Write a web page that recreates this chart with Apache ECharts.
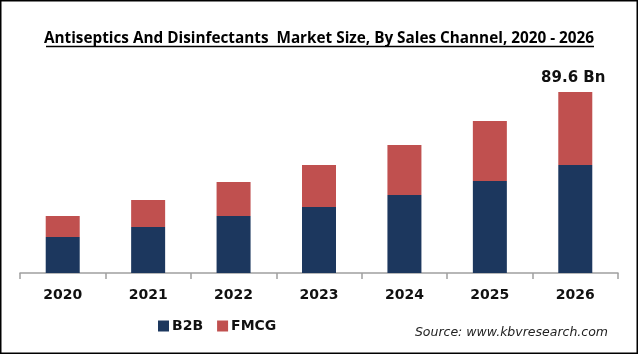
<!DOCTYPE html>
<html>
<head>
<meta charset="utf-8">
<script src="https://cdn.jsdelivr.net/npm/echarts@6/dist/echarts.min.js"></script>
<style>
  html, body { margin: 0; padding: 0; background: #fff; }
  #main { width: 638px; height: 354px; }
</style>
</head>
<body>
<div id="main"></div>
<script>
// values, USD Bn
const years = ['2020', '2021', '2022', '2023', '2024', '2025', '2026'];
const b2b = [17.8, 22.8, 28.2, 32.7, 38.6, 45.5, 53.5];
const fmcg = [10.4, 13.3, 16.8, 20.8, 24.8, 29.7, 36.1];
const seriesNames = ['B2B', 'FMCG'];
const titleText = 'Antiseptics And Disinfectants  Market Size, By Sales Channel, 2020 - 2026';
const sourceText = 'Source: www.kbvresearch.com';

const chart = echarts.init(document.getElementById('main'), null, { renderer: 'canvas' });

const lastIdx = years.length - 1;

const option = {
  animation: false,
  title: {
    text: titleText,
    left: 'center',
    top: 26,
    textStyle: {
      fontFamily: 'Open Sans',
      fontSize: 15.3,
      fontWeight: 'bold',
      color: '#000'
    }
  },
  graphic: [
    {
      type: 'rect',
      shape: { x: 0.75, y: 0.75, width: 636.5, height: 352.5 },
      style: { fill: 'none', stroke: '#000', lineWidth: 1.5 },
      silent: true
    },
    {
      // underline of the title
      type: 'line',
      shape: { x1: 46, y1: 46.5, x2: 594, y2: 46.5 },
      style: { stroke: '#000', lineWidth: 1.3 },
      silent: true
    },
    {
      type: 'text',
      right: 30,
      top: 326,
      style: {
        text: sourceText,
        font: 'italic 12.5px "DejaVu Sans"',
        fill: '#222'
      }
    }
  ],
  legend: {
    data: seriesNames,
    left: 153,
    top: 314,
    itemWidth: 11,
    itemHeight: 11,
    itemGap: 14,
    icon: 'rect',
    textStyle: {
      fontFamily: 'DejaVu Sans',
      fontWeight: 'bold',
      fontSize: 14,
      color: '#111',
      padding: [0, 0, 0, -2]
    }
  },
  grid: { left: 20, right: 20, top: 71, bottom: 81, containLabel: false },
  xAxis: {
    type: 'category',
    data: years,
    axisLine: { lineStyle: { color: '#a0a0a0', width: 1.5 } },
    axisTick: { show: true, length: 6, lineStyle: { color: '#a0a0a0', width: 1.5 } },
    axisLabel: {
      margin: 15,
      fontFamily: 'DejaVu Sans',
      fontWeight: 'bold',
      fontSize: 14,
      color: '#111'
    }
  },
  yAxis: {
    type: 'value',
    min: 0,
    max: 100,
    show: false,
    splitLine: { show: false }
  },
  series: [
    {
      name: seriesNames[0],
      type: 'bar',
      stack: 'total',
      barWidth: 34,
      data: b2b,
      itemStyle: { color: '#1c375e' }
    },
    {
      name: seriesNames[1],
      type: 'bar',
      stack: 'total',
      barWidth: 34,
      data: fmcg.map((v, i) => i === lastIdx ? {
        value: v,
        label: {
          show: true,
          position: 'top',
          distance: 6,
          offset: [-2, 0],
          formatter: () => (b2b[i] + fmcg[i]).toFixed(1) + ' Bn',
          fontFamily: 'DejaVu Sans',
          fontWeight: 'bold',
          fontSize: 15,
          color: '#111'
        }
      } : v),
      itemStyle: { color: '#c0504f' }
    }
  ]
};

chart.setOption(option);
</script>
</body>
</html>
